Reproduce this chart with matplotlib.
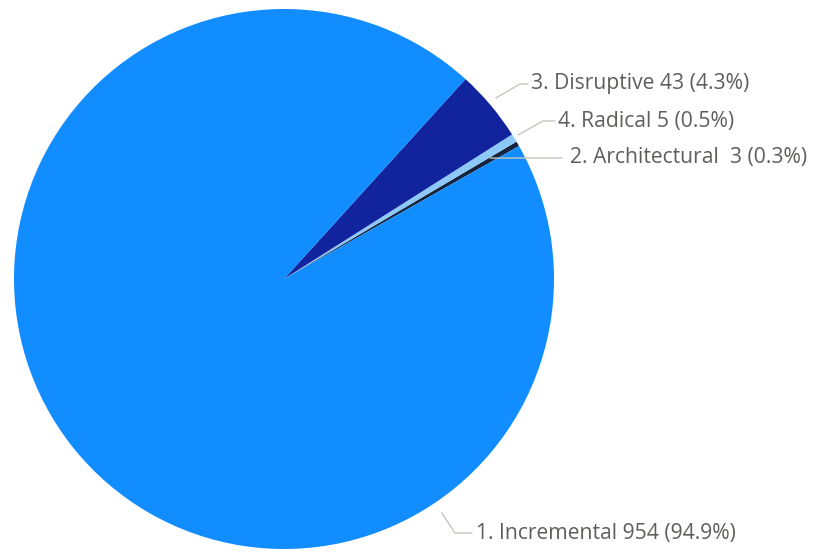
import numpy as np
import matplotlib.pyplot as plt

# innovation types, counts and slice colours
names = ["1. Incremental", "2. Architectural", "3. Disruptive", "4. Radical"]
counts = [954, 3, 43, 5]
colors = ["#118DFF", "#16233F", "#12239E", "#8CC8F8"]

# draw order around the pie (counter-clockwise from the start angle)
order = [1, 3, 2, 0]

W, H = 819, 554
fig = plt.figure(figsize=(W / 100, H / 100), dpi=100)
ax = fig.add_axes([0, 0, 1, 1])

cx, cy, r = 284, H - 279, 270
ax.pie([counts[i] for i in order], colors=[colors[i] for i in order],
       startangle=29.5, counterclock=True, center=(cx, cy), radius=r,
       wedgeprops=dict(linewidth=0), frame=True)
ax.set_xlim(0, W)
ax.set_ylim(0, H)
ax.set_aspect("equal")
ax.axis("off")

total = sum(counts)
line_col = "#C9C4BE"
txt_col = "#605E5C"

# leader line: start point (angle, radius), elbow, end of horizontal, text x
leaders = {
    0: ((-56, 282), (455, 533), (472, 533), 476),
    1: ((30.4, 239), None, (562, 158), 570),
    2: ((40.5, 279), (520, 84), (528, 84), 531),
    3: ((31.6, 275), (543, 121), (555, 121), 558),
}

for i, ((ang, rr), elbow, end, tx) in leaders.items():
    a = np.deg2rad(ang)
    pts = [(cx + rr * np.cos(a), cy + rr * np.sin(a))]
    if elbow is not None:
        pts.append((elbow[0], H - elbow[1]))
    pts.append((end[0], H - end[1]))
    xs, ys = zip(*pts)
    ax.plot(xs, ys, color=line_col, lw=1.0, solid_capstyle="round")
    gap = "  " if i == 1 else " "
    label = f"{names[i]}{gap}{counts[i]} ({counts[i] / total * 100:.1f}%)"
    ax.text(tx, H - end[1], label, ha="left", va="center",
            fontsize=15.2, color=txt_col, family="Open Sans")

fig.savefig("out.png", dpi=100, facecolor="white")
